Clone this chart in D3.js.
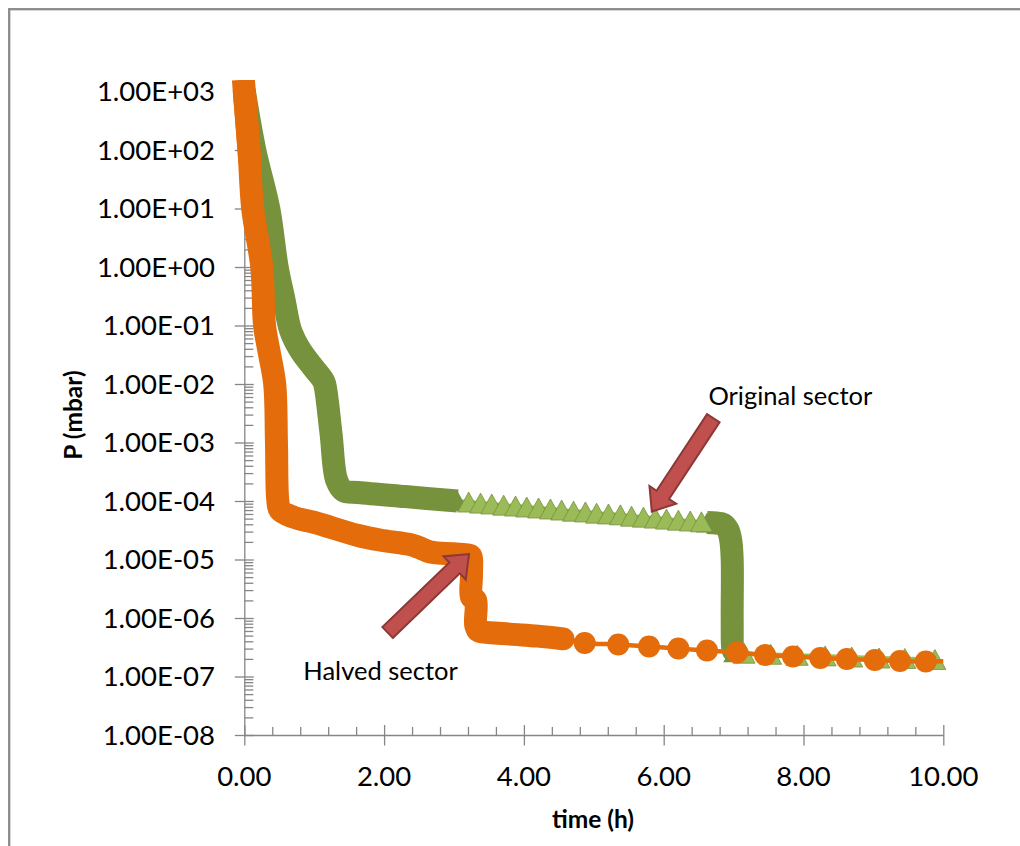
<!DOCTYPE html>
<html>
<head>
<meta charset="utf-8">
<script src="https://cdn.jsdelivr.net/npm/d3@7"></script>
<style>
  html, body { margin: 0; padding: 0; background: #fff; }
  svg { display: block; font-family: Lato, "Open Sans", sans-serif; }
</style>
</head>
<body>
<svg id="chart" width="1020" height="846"></svg>
<script>
// ---- axis ticks ----
const timeTicks = [0, 2, 4, 6, 8, 10];
const pressureTicks = [1e-8, 1e-7, 1e-6, 1e-5, 1e-4, 1e-3, 1e-2, 1e-1, 1e0, 1e1, 1e2, 1e3];

// ---- Original sector ----
// continuous logging during the first pump-down
const originalPumpdownT = [0.00, 0.15, 0.35, 0.47, 0.57, 0.66, 0.80, 0.98, 1.12, 1.15, 1.24, 1.32, 1.42, 1.63, 2.30, 3.05];
const originalPumpdownP = [1013, 100, 10, 1, 0.27, 0.084, 0.038, 0.0195, 0.012, 0.01, 1.45e-3, 2.3e-4, 1.5e-4, 1.4e-4, 1.19e-4, 1.0e-4];
// 10-minute readings on the plateau
const originalPlateauT = [3.21, 3.38, 3.54, 3.71, 3.88, 4.04, 4.21, 4.38, 4.54, 4.71, 4.88, 5.04, 5.21, 5.38, 5.54, 5.71, 5.88, 6.04, 6.21, 6.38, 6.54];
const originalPlateauP = [9.6e-5, 9.2e-5, 8.9e-5, 8.5e-5, 8.2e-5, 7.9e-5, 7.6e-5, 7.3e-5, 7.0e-5, 6.7e-5, 6.5e-5, 6.2e-5, 6.0e-5, 5.8e-5, 5.5e-5, 5.3e-5, 5.1e-5, 4.9e-5, 4.7e-5, 4.55e-5, 4.4e-5];
// continuous logging through the second drop
const originalDropT = [6.62, 6.75, 6.85, 6.92, 6.96, 6.98, 6.98, 6.99, 7.01];
const originalDropP = [4.3e-5, 4.2e-5, 4.0e-5, 3.2e-5, 2.1e-5, 9.8e-6, 9.0e-7, 2.9e-7, 2.6e-7];
// late readings
const originalTailT = [7.15, 7.53, 7.91, 8.31, 8.69, 9.08, 9.45, 9.88];
const originalTailP = [2.5e-7, 2.4e-7, 2.3e-7, 2.25e-7, 2.15e-7, 2.07e-7, 2.03e-7, 1.95e-7];

// ---- Halved sector ----
// continuous logging
const halvedDenseT = [0.00, 0.067, 0.12, 0.25, 0.29, 0.35, 0.435, 0.46, 0.48, 0.51, 0.70, 1.00, 1.63, 1.94, 2.39, 2.50, 2.66, 3.00, 3.20, 3.24, 3.25, 3.25, 3.31, 3.31, 3.35, 3.40, 3.80, 4.20, 4.56];
const halvedDenseP = [1013, 100, 10, 1, 0.1, 0.038, 0.01, 1e-3, 1e-4, 7e-5, 5.3e-5, 4.3e-5, 2.57e-5, 2.15e-5, 1.78e-5, 1.6e-5, 1.34e-5, 1.25e-5, 1.2e-5, 1.15e-5, 5.4e-6, 2.3e-6, 2.0e-6, 7.6e-7, 6.0e-7, 5.8e-7, 5.3e-7, 4.9e-7, 4.4e-7];
// spaced readings
const halvedSampledT = [4.87, 5.35, 5.79, 6.21, 6.62, 7.05, 7.45, 7.85, 8.24, 8.62, 9.02, 9.38, 9.75];
const halvedSampledP = [3.74e-7, 3.52e-7, 3.26e-7, 3.01e-7, 2.78e-7, 2.57e-7, 2.33e-7, 2.20e-7, 2.07e-7, 1.99e-7, 1.91e-7, 1.84e-7, 1.80e-7];
// last logged value (line only)
const halvedLastT = [10.0];
const halvedLastP = [1.82e-7];

// ---- annotations (data coordinates) ----
const arrowNotes = [
  { text: "Original sector", tail: [6.71, 2.6e-3], tip: [5.83, 6.6e-5], label: [6.64, 4.4e-3] },
  { text: "Halved sector", tail: [2.05, 5.65e-7], tip: [3.215, 1.24e-5], label: [0.845, 8.7e-8] }
];

const zip = (ts, ps) => ts.map((t, i) => ({ t, p: ps[i] }));

const svg = d3.select("#chart");
const W = 1020, H = 846;

const x = d3.scaleLinear().domain([0, 10]).range([244.3, 943.3]);
const y = d3.scaleLog().domain([1e-8, 1e3]).range([735, 91.5]);

const axisColor = "#868686";

// outer chart frame
svg.append("rect")
  .attr("x", 9.2).attr("y", 9.2)
  .attr("width", W).attr("height", H)
  .attr("fill", "#fff")
  .attr("stroke", "#8a8a8a").attr("stroke-width", 2.3);

// ---- axes ----
const gx = svg.append("g").attr("transform", `translate(0,${y(1e-8)})`);
gx.call(d3.axisBottom(x).tickValues(timeTicks).tickSizeInner(10).tickSizeOuter(0).tickFormat(""));
gx.selectAll(".tick line").attr("y1", -10).attr("y2", 10.5);
const minorTimes = d3.range(0, 10.0001, 0.4).filter(v => Math.abs(v / 2 - Math.round(v / 2)) > 1e-6);
const gxm = svg.append("g").attr("transform", `translate(0,${y(1e-8)})`);
gxm.call(d3.axisBottom(x).tickValues(minorTimes).tickSizeInner(-8).tickSizeOuter(0).tickFormat(""));
gxm.select(".domain").remove();

const gy = svg.append("g").attr("transform", `translate(${x(0)},0)`);
gy.call(d3.axisLeft(y).tickValues(pressureTicks).tickSizeInner(9.5).tickSizeOuter(0).tickFormat(""));
gy.selectAll(".tick line").attr("x1", 9.5);
const minorP = [];
for (let e = -8; e < 3; e++) for (let m = 2; m <= 9; m++) minorP.push(m * Math.pow(10, e));
const gym = svg.append("g").attr("transform", `translate(${x(0)},0)`);
gym.call(d3.axisLeft(y).tickValues(minorP).tickSizeInner(-9).tickSizeOuter(0).tickFormat(""));
gym.select(".domain").remove();

svg.selectAll(".domain, .tick line").attr("stroke", axisColor).attr("stroke-width", 1.3);

// tick labels
const fmtTime = d3.format(".2f");
const fmtP = p => {
  const e = Math.round(Math.log10(p));
  return "1.00E" + (e < 0 ? "-" : "+") + String(Math.abs(e)).padStart(2, "0");
};
svg.append("g").selectAll("text").data(timeTicks).join("text")
  .attr("x", d => x(d)).attr("y", 786)
  .attr("text-anchor", "middle")
  .attr("font-size", 27.5).attr("fill", "#000")
  .text(fmtTime);
svg.append("g").selectAll("text").data(pressureTicks).join("text")
  .attr("x", 215).attr("y", d => y(d)).attr("dy", "0.36em")
  .attr("text-anchor", "end")
  .attr("font-size", 27.5).attr("fill", "#000")
  .text(fmtP);

// axis titles
svg.append("text")
  .attr("x", 593).attr("y", 828)
  .attr("text-anchor", "middle")
  .attr("font-size", 24.5).attr("font-weight", "bold").attr("fill", "#000")
  .text("time (h)");
svg.append("text")
  .attr("transform", `translate(82,415) rotate(-90)`)
  .attr("text-anchor", "middle")
  .attr("font-size", 24.5).attr("font-weight", "bold").attr("fill", "#000")
  .text("P (mbar)");

// ---- series ----
svg.append("clipPath").attr("id", "plotClip")
  .append("rect").attr("x", 0).attr("y", y(1e3) - 11.5).attr("width", W).attr("height", H);
const plot = svg.append("g").attr("clip-path", "url(#plotClip)");

const line = d3.line().x(d => x(d.t)).y(d => y(d.p)).curve(d3.curveCatmullRom.alpha(0.5));
const straight = d3.line().x(d => x(d.t)).y(d => y(d.p));

const greenDark = "#76923c", greenLight = "#9bbb59";
const orange = "#e46c0a";
const triW = 22, triH = 20;
const triPath = `M0,${-triH / 2}L${triW / 2},${triH / 2}L${-triW / 2},${triH / 2}Z`;
const denseGreenWidth = 23, denseOrangeWidth = 23;

// Original sector
const origPump = zip(originalPumpdownT, originalPumpdownP);
const origPlateau = zip(originalPlateauT, originalPlateauP);
const origDrop = zip(originalDropT, originalDropP);
const origTail = zip(originalTailT, originalTailP);
const origAll = origPump.concat(origPlateau, origDrop, origTail);

plot.append("path").datum(origAll)
  .attr("d", line).attr("fill", "none")
  .attr("stroke", greenLight).attr("stroke-width", 4).attr("stroke-linejoin", "round");

[origPump, origDrop].forEach(seg => {
  plot.append("path").datum(seg)
    .attr("d", line).attr("fill", "none")
    .attr("stroke", greenDark).attr("stroke-width", denseGreenWidth)
    .attr("stroke-linejoin", "round").attr("stroke-linecap", "butt");
  plot.append("g").selectAll("path").data([seg[0], seg[seg.length - 1]]).join("path")
    .attr("transform", d => `translate(${x(d.t)},${y(d.p)})`)
    .attr("d", triPath).attr("fill", greenDark);
});

plot.append("g").selectAll("path").data(origPlateau.concat(origTail)).join("path")
  .attr("transform", d => `translate(${x(d.t)},${y(d.p)})`)
  .attr("d", triPath)
  .attr("fill", greenLight).attr("stroke", greenDark).attr("stroke-width", 0.8);

// Halved sector
const halvedDense = zip(halvedDenseT, halvedDenseP);
const halvedSampled = zip(halvedSampledT, halvedSampledP);
const halvedLast = zip(halvedLastT, halvedLastP);
const halvedAll = halvedDense.concat(halvedSampled, halvedLast);

plot.append("path").datum(halvedAll)
  .attr("d", line).attr("fill", "none")
  .attr("stroke", orange).attr("stroke-width", 4.5).attr("stroke-linejoin", "round");
plot.append("path").datum(halvedDense)
  .attr("d", line).attr("fill", "none")
  .attr("stroke", orange).attr("stroke-width", denseOrangeWidth)
  .attr("stroke-linejoin", "round").attr("stroke-linecap", "round");
// start of the record runs into the top of the plot area: square end, clipped flat
plot.append("path").datum(halvedDense.slice(0, 2))
  .attr("d", straight).attr("fill", "none")
  .attr("stroke", orange).attr("stroke-width", denseOrangeWidth)
  .attr("stroke-linecap", "square");
plot.append("g").selectAll("circle").data(halvedSampled).join("circle")
  .attr("cx", d => x(d.t)).attr("cy", d => y(d.p)).attr("r", 11)
  .attr("fill", orange);

// ---- annotation arrows ----
function blockArrow(x0, y0, x1, y1) {
  const dx = x1 - x0, dy = y1 - y0, len = Math.hypot(dx, dy);
  const ux = dx / len, uy = dy / len, nx = -uy, ny = ux;
  const s = 7.5, h = 16, L = 20;
  const bx = x1 - ux * L, by = y1 - uy * L;
  const pts = [
    [x0 + nx * s, y0 + ny * s], [bx + nx * s, by + ny * s], [bx + nx * h, by + ny * h],
    [x1, y1],
    [bx - nx * h, by - ny * h], [bx - nx * s, by - ny * s], [x0 - nx * s, y0 - ny * s]
  ];
  return "M" + pts.map(p => p.join(",")).join("L") + "Z";
}
const notes = svg.append("g");
arrowNotes.forEach(n => {
  notes.append("path")
    .attr("d", blockArrow(x(n.tail[0]), y(n.tail[1]), x(n.tip[0]), y(n.tip[1])))
    .attr("fill", "#c0504d").attr("stroke", "#8c3836").attr("stroke-width", 2)
    .attr("stroke-linejoin", "miter");
  notes.append("text")
    .attr("x", x(n.label[0])).attr("y", y(n.label[1]))
    .attr("font-size", 25.5).attr("fill", "#000")
    .text(n.text);
});
</script>
</body>
</html>
